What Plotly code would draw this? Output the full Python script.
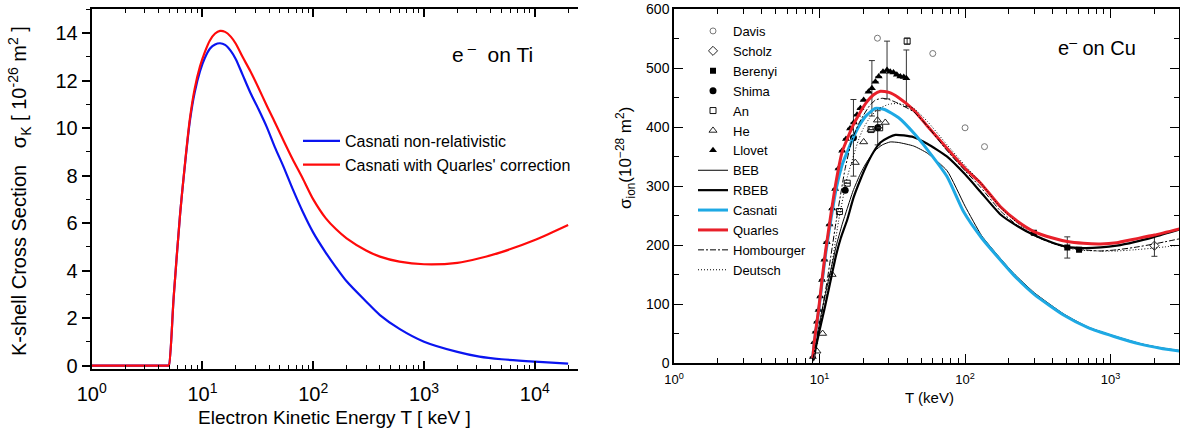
import plotly.graph_objects as go
import numpy as np

# ---------------- Left panel: e- on Ti (K-shell) ----------------
T_ti = [1, 4.9, 4.97, 5.5, 6.27, 7.0, 7.7, 8.5, 9.5, 10.5, 11.7, 13, 14.4, 16, 18, 20, 23, 27, 32, 38, 45,
        53.6, 65, 80, 100, 130, 160, 200, 300, 400, 600, 1000, 2000, 3162, 5000, 10000, 20000]
casnati_nr = [0, 0, 0, 2.9, 6.34, 8.6, 10.3, 11.5, 12.4, 12.95, 13.35, 13.52, 13.57, 13.5, 13.25, 12.9, 12.25,
              11.5, 10.8, 10.05, 9.2, 8.4, 7.45, 6.5, 5.6, 4.75, 4.15, 3.55, 2.7, 2.13, 1.55, 1.01, 0.58,
              0.38, 0.27, 0.17, 0.09]
casnati_q = [0, 0, 0, 2.9, 6.34, 8.65, 10.4, 11.65, 12.6, 13.2, 13.7, 13.98, 14.09, 14.05, 13.85, 13.55, 13.0,
             12.4, 11.7, 10.95, 10.25, 9.5, 8.7, 7.9, 7.0, 6.2, 5.75, 5.36, 4.85, 4.59, 4.38, 4.27, 4.33,
             4.52, 4.78, 5.29, 5.92]

# ---------------- Right panel: e- on Cu ----------------
T_quarles = [8.98, 9.2, 9.5, 9.85, 10.4, 11, 12, 13, 14.3, 15.5, 17, 19, 21, 23.5, 26.2, 30, 35, 44.4, 55,
             75.3, 100, 128, 175, 230, 297, 400, 504, 650, 855, 1100, 1450, 2000, 3020]
s_quarles = [8, 35, 62, 90, 141, 190, 254, 308, 358, 380, 403, 425, 442, 455, 461, 459, 450, 429, 402,
             364, 330, 305, 265, 240, 223, 212, 206, 203, 202, 204, 210, 217, 228]

T_casnati = [8.98, 9.2, 9.5, 9.85, 10.4, 11, 12, 13, 14.3, 15.5, 17, 19, 21, 24.2, 28, 35, 44.4, 55, 75.3,
             98, 130, 170, 216, 300, 478, 700, 1055, 1600, 2200, 3020]
s_casnati = [8, 34, 60, 87, 136, 184, 245, 295, 336, 358, 382, 405, 420, 432, 430, 416, 390, 362, 316,
             256, 212, 178, 149, 116, 81, 60, 45, 32, 25, 20]

T_beb = [9.1, 9.5, 10, 10.5, 11, 12, 13, 14.3, 15.5, 17, 19, 21, 24, 27, 30.6, 35, 44.4, 55, 75.3, 100,
         130, 170, 216, 300, 478, 700, 1055, 1600, 2200, 3020]
s_beb = [3, 36, 68, 95, 118, 160, 198, 235, 262, 292, 320, 340, 360, 370, 375, 374, 368, 356, 326, 266,
         216, 181, 152, 119, 83, 61, 46, 33, 26, 21]

T_rbeb = [9.1, 9.5, 10, 10.5, 11, 12.2, 13, 14, 15.5, 17.1, 19, 21, 23.5, 26.2, 30, 33.2, 38, 44.4, 55,
          75.3, 100, 128, 175, 230, 297, 400, 504, 650, 855, 1100, 1450, 2000, 3020]
s_rbeb = [5, 30, 55, 78, 100, 152, 183, 212, 243, 280, 310, 335, 358, 374, 383, 387, 386, 383, 372,
          350, 320, 290, 252, 232, 217, 204, 197, 195, 196, 199, 205, 214, 227]

T_homb = [8.98, 9.5, 10, 11.3, 13, 15, 16.7, 18.5, 20, 22, 24.2, 27, 30, 35, 44.4, 55, 75.3, 100, 128,
          175, 230, 297, 400, 504, 650, 855, 1100, 1450, 2000, 3020]
s_homb = [5, 35, 62, 141, 240, 330, 378, 405, 420, 436, 446, 449, 447, 440, 426, 402, 360, 326, 298,
          258, 233, 216, 203, 196, 192, 190, 192, 196, 202, 211]

T_deut = [8.98, 9.5, 10, 11.7, 13.5, 15.5, 18.5, 20, 22, 25, 30, 35, 44.4, 55, 75.3, 100, 128, 175, 230,
          297, 400, 504, 650, 855, 1100, 1450, 2000, 3020]
s_deut = [5, 30, 55, 141, 240, 315, 378, 398, 415, 430, 439, 440, 432, 410, 370, 335, 306, 264, 237,
          217, 203, 195, 191, 190, 190, 192, 195, 200]

# experimental data
T_davis = [25, 60, 100, 136]
s_davis = [551, 525, 399, 367]

T_scholz = [2000]
s_scholz = [199]
e_scholz = [18]

T_berenyi = [297, 504, 607]
s_berenyi = [221, 196, 192]
e_berenyi = [0, 18, 0]

T_shima = [15, 17.1, 25.1]
s_shima = [293, 382, 399]
e_shima = [0, 65, 29]

T_an = [13.7, 15.5, 22.6, 25.9, 40]
s_an = [257, 305, 396, 399, 546]
e_an = [0, 0, 0, 0, 5]

T_he = [9.6, 10.5, 12.2, 17.6, 20.1, 22.6, 25, 28.3]
s_he = [20, 50, 150, 340, 375, 396, 412, 408]

T_llovet = [9.0, 9.2, 9.4, 9.6, 9.85, 10.1, 10.4, 10.8, 11.2, 11.7, 12.2, 12.8, 13.5, 14.3, 15.2, 16.2,
            17.2, 18.1, 19.1, 20.1, 21.7, 22.9, 24.2, 25.5, 27.3, 29.1, 30.6, 32.2, 34.0, 35.9, 37.9, 39.5]
s_llovet = [10, 35, 53, 70, 90, 113, 141, 175, 205, 235, 262, 295, 330, 360, 380, 398, 408, 421, 432,
            446, 460, 466, 477, 486, 494, 497, 494, 493, 489, 486, 485, 483]
e_llovet = [0, 0, 0, 0, 0, 0, 0, 0, 0, 0, 0, 0, 0, 0, 0, 0, 0, 0, 0, 0, 0, 47, 0, 0, 0, 49, 0, 0, 0, 0, 0, 48]

W, H = 1180, 429
FONT = "Liberation Sans, Arial, sans-serif"

def px(x):
    return x / W

def py(y):
    return 1 - y / H

fig = go.Figure()

lsp = dict(shape="spline", smoothing=0.8)
fig.add_trace(go.Scatter(x=T_ti, y=casnati_nr, mode="lines", name="Casnati non-relativistic",
                         line=dict(color="#0a14f0", width=2.2, **lsp), xaxis="x", yaxis="y", legend="legend"))
fig.add_trace(go.Scatter(x=T_ti, y=casnati_q, mode="lines", name="Casnati with Quarles' correction",
                         line=dict(color="#ff0a0a", width=2.2, **lsp), xaxis="x", yaxis="y", legend="legend"))

def err(arr):
    return dict(type="data", array=arr, visible=True, thickness=1, width=3, color="#333")

ax2 = dict(xaxis="x2", yaxis="y2", legend="legend2")
fig.add_trace(go.Scatter(x=T_davis, y=s_davis, mode="markers", name="Davis",
                         marker=dict(symbol="circle-open", size=6, color="#777", line=dict(width=1)), **ax2))
fig.add_trace(go.Scatter(x=T_scholz, y=s_scholz, mode="markers", name="Scholz", error_y=err(e_scholz),
                         marker=dict(symbol="diamond-open", size=7, color="#222", line=dict(width=1)), **ax2))
fig.add_trace(go.Scatter(x=T_berenyi, y=s_berenyi, mode="markers", name="Berenyi", error_y=err(e_berenyi),
                         marker=dict(symbol="square", size=6, color="#000"), **ax2))
fig.add_trace(go.Scatter(x=T_shima, y=s_shima, mode="markers", name="Shima", error_y=err(e_shima),
                         marker=dict(symbol="circle", size=7, color="#000"), **ax2))
fig.add_trace(go.Scatter(x=T_an, y=s_an, mode="markers", name="An", error_y=err(e_an),
                         marker=dict(symbol="square-open", size=6, color="#111", line=dict(width=1)), **ax2))
fig.add_trace(go.Scatter(x=T_he, y=s_he, mode="markers", name="He",
                         marker=dict(symbol="triangle-up-open", size=7, color="#222", line=dict(width=1)), **ax2))
fig.add_trace(go.Scatter(x=T_llovet, y=s_llovet, mode="markers", name="Llovet", error_y=err(e_llovet),
                         marker=dict(symbol="triangle-up", size=7, color="#000"), **ax2))

lk = dict(shape="spline", smoothing=0.5)
fig.add_trace(go.Scatter(x=T_beb, y=s_beb, mode="lines", name="BEB",
                         line=dict(color="#000", width=1, **lk), **ax2))
fig.add_trace(go.Scatter(x=T_rbeb, y=s_rbeb, mode="lines", name="RBEB",
                         line=dict(color="#000", width=2.2, **lk), **ax2))
fig.add_trace(go.Scatter(x=T_casnati, y=s_casnati, mode="lines", name="Casnati",
                         line=dict(color="#1ea9e4", width=3, **lk), **ax2))
fig.add_trace(go.Scatter(x=T_quarles, y=s_quarles, mode="lines", name="Quarles",
                         line=dict(color="#e8202a", width=3, **lk), **ax2))
fig.add_trace(go.Scatter(x=T_homb, y=s_homb, mode="lines", name="Hombourger",
                         line=dict(color="#000", width=1, dash="6px,2px,2px,2px", **lk), **ax2))
fig.add_trace(go.Scatter(x=T_deut, y=s_deut, mode="lines", name="Deutsch",
                         line=dict(color="#000", width=1, dash="1px,2px", **lk), **ax2))

def minor_log(maxdec):
    vals = []
    for d in range(0, maxdec + 1):
        for m in range(2, 10):
            vals.append(m * 10 ** d)
    return vals

left_x = dict(domain=[px(91.7), px(578)], type="log", range=[0, 4.39], anchor="y",
              tickvals=[1, 10, 100, 1000, 10000],
              ticktext=["10<sup>0</sup>", "10<sup>1</sup>", "10<sup>2</sup>", "10<sup>3</sup>", "10<sup>4</sup>"],
              ticks="inside", ticklen=8, tickwidth=1.5, tickcolor="black", mirror="ticks",
              showline=True, linecolor="black", linewidth=2, showgrid=False, zeroline=False,
              tickfont=dict(size=20, color="black", family=FONT), ticklabelstandoff=6,
              minor=dict(tickvals=minor_log(4), ticks="inside", ticklen=4, tickwidth=1.2, tickcolor="black",
                         showgrid=False))
left_y = dict(domain=[py(369), py(9.3)], range=[-0.14, 15], anchor="x",
              tickvals=[0, 2, 4, 6, 8, 10, 12, 14], ticks="outside", ticklen=8, tickwidth=1.5,
              tickcolor="black", showline=True, linecolor="black", linewidth=2, showgrid=False,
              zeroline=False, tickfont=dict(size=20, color="black", family=FONT),
              minor=dict(dtick=1, ticks="outside", ticklen=4, tickwidth=1.2, tickcolor="black", showgrid=False))
left_y3 = dict(overlaying="y", side="right", anchor="x", range=[-0.14, 15],
               tickvals=[0, 2, 4, 6, 8, 10, 12, 14], ticks="inside", ticklen=8, tickwidth=1.5,
               tickcolor="black", showline=True, linecolor="black", linewidth=2, showgrid=False,
               zeroline=False, showticklabels=False,
               minor=dict(dtick=1, ticks="inside", ticklen=4, tickwidth=1.2, tickcolor="black", showgrid=False))

right_x = dict(domain=[px(674), px(1179)], type="log", range=[0, 3.47], anchor="y2",
               tickvals=[1, 10, 100, 1000],
               ticktext=["10<sup>0</sup>", "10<sup>1</sup>", "10<sup>2</sup>", "10<sup>3</sup>"],
               ticks="inside", ticklen=9, tickwidth=1.2, tickcolor="black", mirror="ticks",
               showline=True, linecolor="black", linewidth=1.5, showgrid=False, zeroline=False,
               tickfont=dict(size=13, color="black", family=FONT), ticklabelstandoff=4,
               minor=dict(tickvals=minor_log(3), ticks="inside", ticklen=5, tickwidth=1, tickcolor="black",
                          showgrid=False))
right_y = dict(domain=[py(363), py(9.3)], range=[0, 600], anchor="x2",
               tickvals=[0, 100, 200, 300, 400, 500, 600], ticks="inside", ticklen=9, tickwidth=1.2,
               tickcolor="black", mirror="ticks", showline=True, linecolor="black", linewidth=1.5,
               showgrid=False, zeroline=False, tickfont=dict(size=14, color="black", family=FONT),
               minor=dict(dtick=50, ticks="inside", ticklen=5, tickwidth=1, tickcolor="black", showgrid=False))

def ann(text, x, y, size, angle=0):
    return dict(text=text, x=px(x), y=py(y), xref="paper", yref="paper", showarrow=False,
                xanchor="center", yanchor="middle", textangle=angle,
                font=dict(size=size, color="black", family=FONT))

annotations = [
    ann("e<sup> \u2013</sup>  on Ti", 492, 53, 21),
    ann("e<sup>\u2013</sup> on Cu", 1097, 46, 20),
    ann("Electron Kinetic Energy T [ keV ]", 334, 417, 19),
    ann("K-shell Cross Section   \u03c3<sub>K</sub> [ 10<sup>-26</sup> m<sup>2</sup> ]", 19, 191, 20, -90),
    ann("T (keV)", 929, 397, 15),
    ann("\u03c3<sub>ion</sub>(10<sup>\u221228</sup> m<sup>2</sup>)", 626, 158, 17, -90),
]

fig.update_layout(
    width=W, height=H, margin=dict(l=0, r=0, t=0, b=0, autoexpand=False),
    paper_bgcolor="white", plot_bgcolor="white",
    font=dict(family=FONT, color="black"),
    xaxis=left_x, yaxis=left_y, yaxis3=left_y3, xaxis2=right_x, yaxis2=right_y,
    annotations=annotations,
    legend=dict(x=px(298), y=py(124), xanchor="left", yanchor="top", bgcolor="rgba(0,0,0,0)",
                font=dict(size=16, color="black", family=FONT), itemwidth=37, borderwidth=0,
                tracegroupgap=0),
    legend2=dict(x=px(693), y=py(16), xanchor="left", yanchor="top", bgcolor="rgba(0,0,0,0)",
                 font=dict(size=13, color="black", family=FONT), itemwidth=30, borderwidth=0,
                 tracegroupgap=0),
    showlegend=True,
)

fig.write_html("out.html")
